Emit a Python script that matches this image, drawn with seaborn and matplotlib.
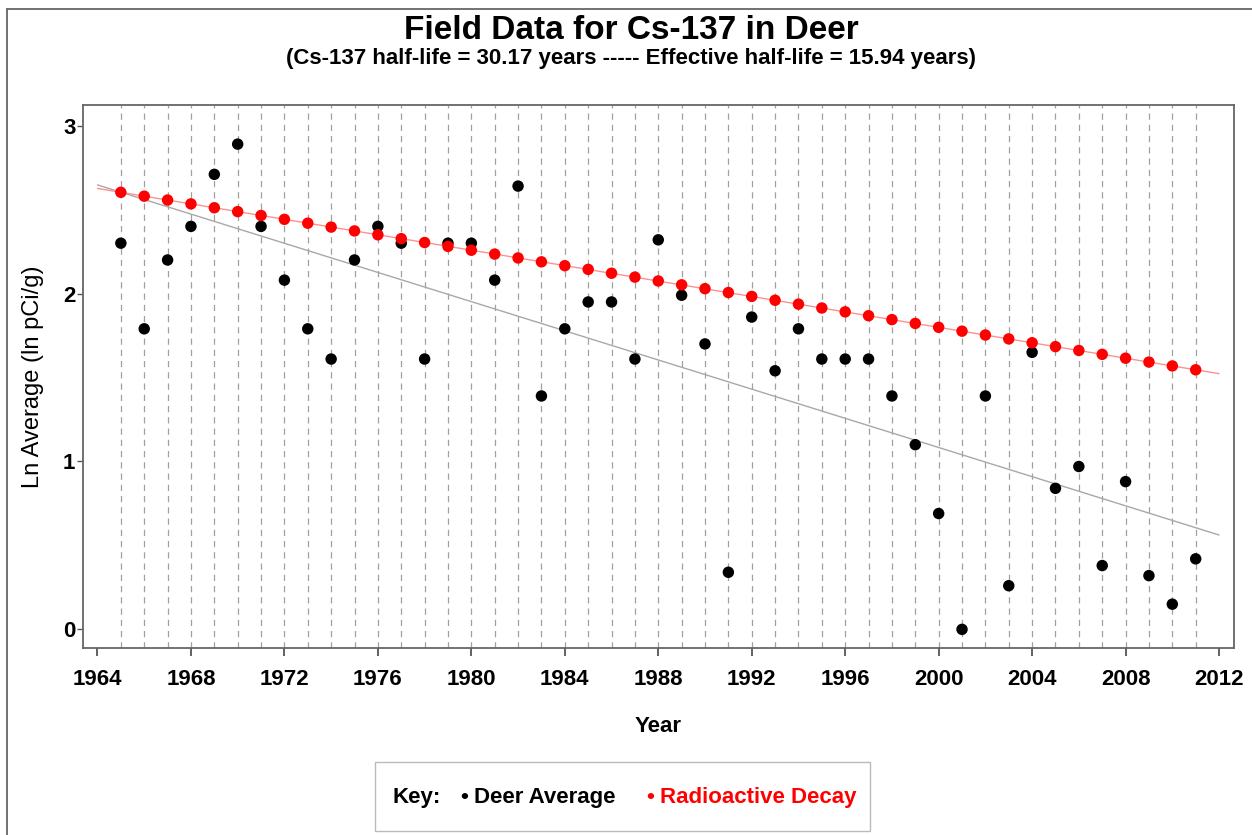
import matplotlib
matplotlib.use("Agg")
import matplotlib.pyplot as plt
from matplotlib.lines import Line2D
from matplotlib.patches import Rectangle
import seaborn as sns
import pandas as pd

# ---------------- data ----------------
years = list(range(1965, 2012))
deer_avg = [2.30, 1.79, 2.20, 2.40, 2.71, 2.89, 2.40, 2.08, 1.79, 1.61,
            2.20, 2.40, 2.30, 1.61, 2.30, 2.30, 2.08, 2.64, 1.39, 1.79,
            1.95, 1.95, 1.61, 2.32, 1.99, 1.70, 0.34, 1.86, 1.54, 1.79,
            1.61, 1.61, 1.61, 1.39, 1.10, 0.69, 0.00, 1.39, 0.26, 1.65,
            0.84, 0.97, 0.38, 0.88, 0.32, 0.15, 0.42]
decay = [2.603, 2.580, 2.557, 2.534, 2.511, 2.488, 2.465, 2.442, 2.419, 2.396,
         2.373, 2.350, 2.327, 2.304, 2.281, 2.258, 2.235, 2.212, 2.189, 2.166,
         2.144, 2.121, 2.098, 2.075, 2.052, 2.029, 2.006, 1.983, 1.960, 1.937,
         1.914, 1.891, 1.868, 1.845, 1.822, 1.799, 1.776, 1.753, 1.730, 1.707,
         1.684, 1.661, 1.638, 1.615, 1.592, 1.569, 1.546]
line_years = [1964, 2012]
decay_line = [2.626, 1.523]
fit_line = [2.647, 0.562]
x_ticks = list(range(1964, 2013, 4))
y_ticks = [0, 1, 2, 3]

title = "Field Data for Cs-137 in Deer"
subtitle = "(Cs-137 half-life = 30.17 years ----- Effective half-life = 15.94 years)"
x_label = "Year"
y_label = "Ln Average (ln pCi/g)"

df = pd.DataFrame({"Year": years, "Deer": deer_avg, "Decay": decay})
df_lines = pd.DataFrame({"Year": line_years, "DecayLine": decay_line, "Fit": fit_line})

# ---------------- style ----------------
sns.set_style("white")
plt.rcParams["font.family"] = ["Liberation Sans", "DejaVu Sans"]
plt.rcParams["text.color"] = "black"
plt.rcParams["axes.labelcolor"] = "black"
plt.rcParams["xtick.color"] = "black"
plt.rcParams["ytick.color"] = "black"

W, H = 1252, 835
fig = plt.figure(figsize=(W / 100, H / 100), dpi=100)
ax = fig.add_axes([83 / W, 1 - 648 / H, (1234 - 83) / W, (648 - 105) / H])

# vertical dashed reference lines at each data year
for yr in years:
    ax.axvline(yr, color="#a0a0a0", lw=0.9, ls=(0, (5, 4)), zorder=0)

# fit line and decay line
sns.lineplot(data=df_lines, x="Year", y="Fit", ax=ax, color="#a8a8a8", lw=1.0, zorder=1)
sns.lineplot(data=df_lines, x="Year", y="DecayLine", ax=ax, color="#ff9090", lw=1.0, zorder=1)

# points
sns.scatterplot(data=df, x="Year", y="Deer", ax=ax, color="black", s=68,
                edgecolor="none", linewidth=0, zorder=3)
sns.scatterplot(data=df, x="Year", y="Decay", ax=ax, color="#ff0000", s=68,
                edgecolor="none", linewidth=0, zorder=4)

ax.set_xlim(1963.38, 2012.64)
ax.set_ylim(-0.111, 3.123)
ax.set_xticks(x_ticks)
ax.set_yticks(y_ticks)
ax.set_xticklabels([str(t) for t in x_ticks], fontsize=16, fontweight="bold")
ax.set_yticklabels([str(t) for t in y_ticks], fontsize=16, fontweight="bold")
ax.tick_params(axis="x", direction="out", length=6, width=1.3, color="#555555", pad=9,
               bottom=True, labelcolor="black")
ax.tick_params(axis="y", direction="out", length=4, width=1.0, color="#555555", pad=1.5,
               left=True, labelcolor="black")
for sp in ax.spines.values():
    sp.set_visible(True)
    sp.set_color("#666666")
    sp.set_linewidth(1.3)

ax.set_xlabel(x_label, fontsize=16, fontweight="bold", color="black")
ax.set_ylabel(y_label, fontsize=17, color="black")
ax.xaxis.set_label_coords((658 - 83) / (1234 - 83), -(727 - 648) / (648 - 105))
ax.yaxis.set_label_coords(-(83 - 33) / (1234 - 83), 0.5)
ax.xaxis.label.set_va("center")
ax.yaxis.label.set_va("center")

# titles
fig.text(631 / W, 1 - 39 / H, title, ha="center", va="baseline", fontsize=24,
         fontweight="bold", color="black")
fig.text(631 / W, 1 - 64 / H, subtitle, ha="center", va="baseline", fontsize=16,
         fontweight="bold", color="black")

# key box
fig.add_artist(Rectangle((375 / W, 1 - 831 / H), (870 - 375) / W, (831 - 762) / H,
                         transform=fig.transFigure, facecolor="white",
                         edgecolor="#bbbbbb", lw=1.0))
by = 1 - 803 / H
fig.text(393 / W, by, "Key:", ha="left", va="baseline", fontsize=16, fontweight="bold", color="black")
fig.text(464 / W, by, "\u2022", ha="center", va="baseline", fontsize=16, fontweight="bold", color="black")
fig.text(474 / W, by, "Deer Average", ha="left", va="baseline", fontsize=16, fontweight="bold", color="black")
fig.text(650 / W, by, "\u2022", ha="center", va="baseline", fontsize=16, fontweight="bold", color="#ff0000")
fig.text(660 / W, by, "Radioactive Decay", ha="left", va="baseline", fontsize=16, fontweight="bold", color="#ff0000")

# outer frame lines (left and top)
fig.add_artist(Line2D([7 / W, 7 / W], [0, 1 - 9 / H], transform=fig.transFigure,
                      color="#666666", lw=1.3))
fig.add_artist(Line2D([7 / W, 1], [1 - 9 / H, 1 - 9 / H], transform=fig.transFigure,
                      color="#666666", lw=1.3))

fig.savefig("out.png", dpi=100)
